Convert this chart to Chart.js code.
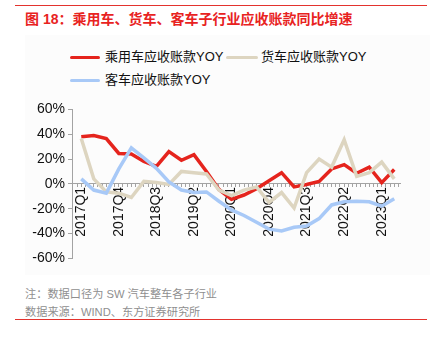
<!DOCTYPE html>
<html>
<head>
<meta charset="utf-8">
<script src="https://cdn.jsdelivr.net/npm/chart.js@4"></script>
<style>
  html, body { margin: 0; padding: 0; background: #fff; }
  body { width: 442px; height: 337px; position: relative; overflow: hidden;
    font-family: "Liberation Sans", Arial, "Noto Sans CJK SC", sans-serif; }
  .rule { position: absolute; left: 15px; width: 412px; height: 1px; background: #e3332e; }
  .title { position: absolute; left: 25px; top: 8px; font-size: 14px; font-weight: bold; color: #e8231f;
    font-family: "Liberation Sans", Arial, "Noto Sans CJK SC", sans-serif; white-space: nowrap; }
  .panel { position: absolute; left: 25px; top: 35px; width: 405px; height: 240px; background: #fcfcfc; }
  .leg { position: absolute; font-size: 13px; color: #111; white-space: nowrap; line-height: 16px; }
  .leg i { position: absolute; left: -35px; top: 7px; width: 30px; height: 3px; border-radius: 2px; }
  #wrap { position: absolute; left: 0; top: 98px; width: 442px; height: 172px; }
  .note { position: absolute; left: 25px; font-size: 11.2px; color: #8f8f8f; white-space: nowrap; }
</style>
</head>
<body>
<div class="rule" style="top:5px"></div>
<div class="title">图 18：乘用车、货车、客车子行业应收账款同比增速</div>
<div class="panel"></div>
<div class="leg" style="left:105px;top:49px"><i style="background:#e5241d"></i>乘用车应收账款YOY</div>
<div class="leg" style="left:261px;top:49px"><i style="background:#ddd5c0;width:32px;left:-35px"></i>货车应收账款YOY</div>
<div class="leg" style="left:105px;top:72px"><i style="background:#a8c9f7"></i>客车应收账款YOY</div>
<div id="wrap"><canvas id="c"></canvas></div>
<div class="note" style="top:285px">注：数据口径为 SW 汽车整车各子行业</div>
<div class="note" style="top:303px">数据来源：WIND、东方证券研究所</div>
<div class="rule" style="top:319px"></div>
<script>
const QUARTERS = [
  '2017Q1', '2017Q2', '2017Q3', '2017Q4', '2018Q1', '2018Q2', '2018Q3', '2018Q4',
  '2019Q1', '2019Q2', '2019Q3', '2019Q4', '2020Q1', '2020Q2', '2020Q3', '2020Q4',
  '2021Q1', '2021Q2', '2021Q3', '2021Q4', '2022Q1', '2022Q2', '2022Q3', '2022Q4',
  '2023Q1', '2023Q2'
];
const PASSENGER = [38, 39, 36.5, 24.5, 24, 18, 14, 26, 19, 23.5, 10, -4.5, -12.5, -9, -4, 2.5,
  9, -2.5, -0.5, 2, 12, 15.5, 8.5, 13.5, 1, 11.5];
const TRUCK = [36.5, 4, -6.5, -7.5, -11, 2, 1, -0.5, 10, 9, 8, -5, -9.5, -5, -2.5, -15,
  -7, -19.5, 9, 20, 13.5, 35.5, 6, 9, 17.5, 4];
const BUS = [4, -5, -7.5, 12, 29, 21, 12.5, 1.5, -5, -7, -6.5, -14, -21, -25.5, -31, -36.5,
  -38, -35, -34, -28, -17, -14.5, -14, -14.5, -18, -12];
const Y_TICKS = [-60, -40, -20, 0, 20, 40, 60];

const toPts = arr => arr.map((v, i) => ({ x: i, y: v }));
const axisCol = '#a3a3a3';

new Chart(document.getElementById('c'), {
  type: 'line',
  data: {
    datasets: [
      { label: '乘用车应收账款YOY', data: toPts(PASSENGER), borderColor: '#e5241d', borderWidth: 3.5, order: 3 },
      { label: '货车应收账款YOY', data: toPts(TRUCK), borderColor: '#ddd5c0', borderWidth: 3.5, order: 2 },
      { label: '客车应收账款YOY', data: toPts(BUS), borderColor: '#a8c9f7', borderWidth: 3.5, order: 1 },
    ]
  },
  options: {
    responsive: true, maintainAspectRatio: false, animation: false,
    layout: { padding: { top: 10.3, right: 42, bottom: 11.7, left: 0 } },
    elements: { point: { radius: 0 }, line: { tension: 0, borderCapStyle: 'butt', borderJoinStyle: 'miter' } },
    plugins: { legend: { display: false }, tooltip: { enabled: false } },
    scales: {
      x: {
        type: 'linear', position: { y: 0 }, min: -0.74, max: 25.46,
        afterBuildTicks: axis => {
          // one tick mark per month, labels every third quarter
          const t = [];
          for (let m = -2; m <= 76; m++) t.push({ value: m / 3 });
          axis.ticks = t;
        },
        grid: { drawOnChartArea: false, color: axisCol, tickLength: 3 },
        border: { color: axisCol },
        ticks: {
          autoSkip: false, maxRotation: 90, minRotation: 90, padding: 0,
          font: { size: 14 }, color: '#111',
          callback: v => {
            const m = Math.round(v * 3);
            return (m >= 0 && m % 9 === 0) ? (QUARTERS[m / 3] || '') : '';
          }
        }
      },
      y: {
        min: -60, max: 60,
        afterBuildTicks: axis => { axis.ticks = Y_TICKS.map(v => ({ value: v })); },
        afterFit: s => { s.width = 72; },
        grid: { drawOnChartArea: false, color: axisCol, tickLength: 4 },
        border: { color: axisCol },
        ticks: { font: { size: 14 }, color: '#111', padding: 3, callback: v => v + '%' }
      }
    }
  }
});
</script>
</body>
</html>
